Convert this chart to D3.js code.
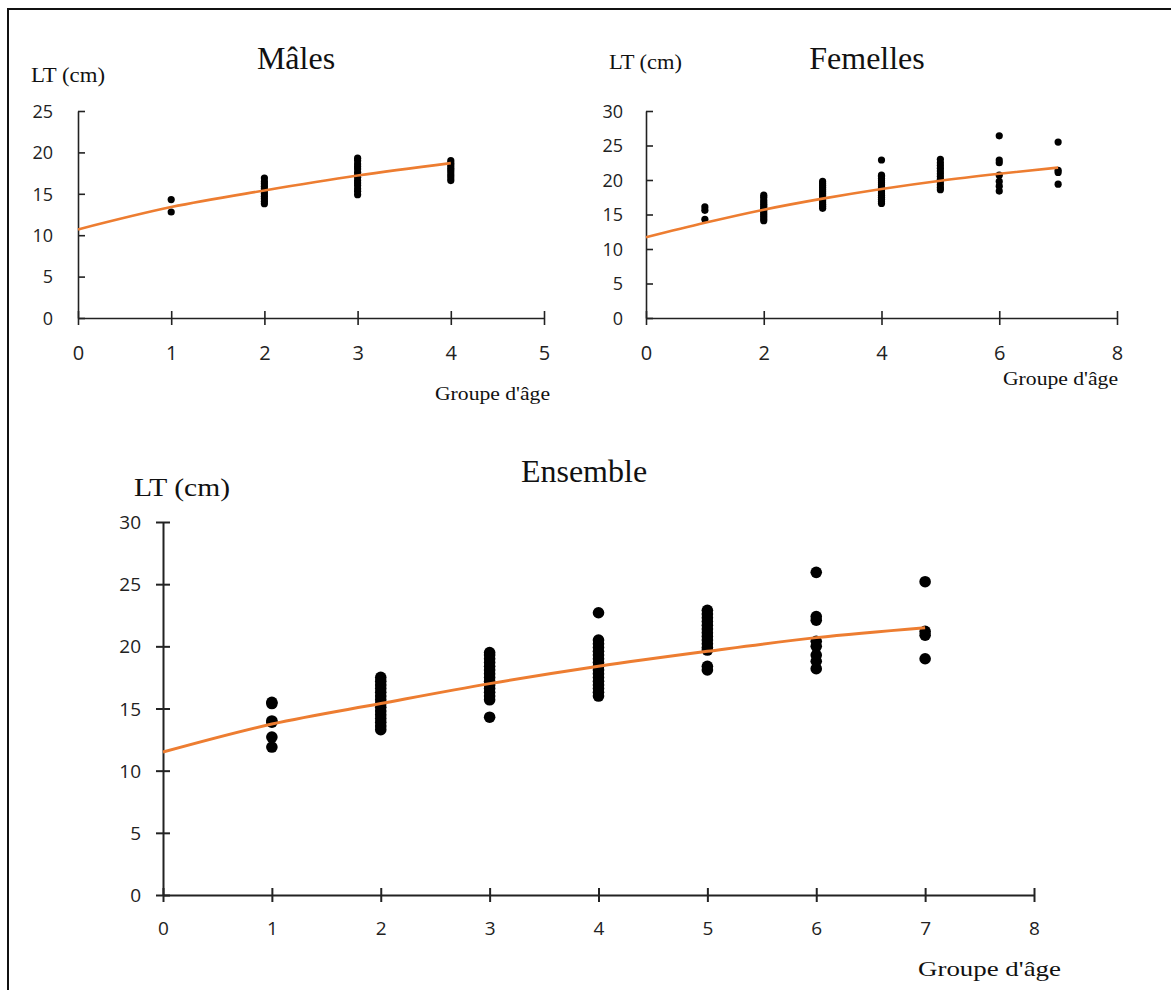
<!DOCTYPE html>
<html>
<head>
<meta charset="utf-8">
<script src="https://cdn.jsdelivr.net/npm/d3@7"></script>
<style>
  body { margin: 0; background: #fff; }
  svg { display: block; }
</style>
</head>
<body>
<svg id="chart"></svg>
<script>
// ---- data ----
const titles = ["Mâles", "Femelles", "Ensemble"];
const yLabel = "LT (cm)";
const xLabel = "Groupe d'âge";

const malesAges = [1, 2, 3, 4];
const malesLT = [
  [14.3, 12.8],
  [13.8, 14.1, 14.4, 14.7, 15.0, 15.3, 15.6, 15.9, 16.2, 16.5, 16.9],
  [14.9, 15.3, 15.6, 16.0, 16.3, 16.6, 17.0, 17.3, 17.6, 18.0, 18.3, 18.6, 19.0, 19.3],
  [16.6, 16.9, 17.2, 17.5, 17.8, 18.1, 18.4, 18.7, 19.0]
];
const malesCurveAge = [0, 1, 2, 3, 4];
const malesCurveLT = [10.7, 13.4, 15.4, 17.2, 18.7];

const femalesAges = [1, 2, 3, 4, 5, 6, 7];
const femalesLT = [
  [16.1, 15.6, 14.3],
  [14.1, 14.4, 14.7, 15.0, 15.3, 15.6, 15.9, 16.2, 16.5, 16.8, 17.1, 17.5, 17.8],
  [15.9, 16.2, 16.5, 16.8, 17.1, 17.4, 17.7, 18.0, 18.3, 18.6, 18.9, 19.2, 19.5, 19.8],
  [22.9, 16.6, 16.9, 17.2, 17.5, 17.8, 18.1, 18.4, 18.7, 19.0, 19.3, 19.6, 19.9, 20.2, 20.5, 20.7],
  [18.6, 18.9, 19.3, 19.7, 20.1, 20.5, 20.9, 21.3, 21.7, 22.1, 22.5, 23.0],
  [26.4, 22.9, 22.5, 20.7, 19.8, 19.1, 18.4],
  [25.5, 21.4, 21.1, 19.4]
];
const femalesCurveAge = [0, 1, 2, 3, 4, 5, 6, 7];
const femalesCurveLT = [11.7, 13.8, 15.7, 17.3, 18.7, 19.9, 20.9, 21.8];

const allAges = [1, 2, 3, 4, 5, 6, 7];
const allLT = [
  [15.5, 15.4, 14.0, 13.9, 12.7, 11.9],
  [13.3, 13.6, 13.9, 14.2, 14.5, 14.8, 15.1, 15.4, 15.7, 16.0, 16.3, 16.6, 16.9, 17.2, 17.5],
  [14.3, 15.7, 16.0, 16.3, 16.6, 16.9, 17.2, 17.5, 17.8, 18.1, 18.4, 18.7, 19.0, 19.3, 19.5],
  [22.7, 16.0, 16.3, 16.6, 16.9, 17.2, 17.5, 17.8, 18.1, 18.4, 18.7, 19.0, 19.3, 19.6, 19.9, 20.2, 20.5],
  [22.9, 22.6, 22.3, 22.0, 21.7, 21.4, 21.1, 20.8, 20.5, 20.2, 19.9, 19.7, 18.4, 18.1],
  [25.95, 22.4, 22.1, 20.4, 20.0, 19.3, 18.8, 18.2],
  [25.2, 21.2, 20.9, 19.0]
];
const allCurveAge = [0, 1, 2, 3, 4, 5, 6, 7];
const allCurveLT = [11.5, 13.75, 15.4, 17.0, 18.4, 19.6, 20.7, 21.5];

const malesXTicks = [0, 1, 2, 3, 4, 5];
const malesYTicks = [0, 5, 10, 15, 20, 25];
const femalesXTicks = [0, 2, 4, 6, 8];
const femalesYTicks = [0, 5, 10, 15, 20, 25, 30];
const allXTicks = [0, 1, 2, 3, 4, 5, 6, 7, 8];
const allYTicks = [0, 5, 10, 15, 20, 25, 30];

// ---- layout ----
const W = 1171, H = 990;
const svg = d3.select("#chart").attr("width", W).attr("height", H);

svg.append("rect")
  .attr("x", 8).attr("y", 9).attr("width", 1200).attr("height", 1000)
  .attr("fill", "none").attr("stroke", "#111").attr("stroke-width", 2);

const panels = [
  {
    title: titles[0], ages: malesAges, lt: malesLT, cAge: malesCurveAge, cLT: malesCurveLT,
    xDom: [0, 5], yDom: [0, 25], xT: malesXTicks, yT: malesYTicks,
    x0: 78, x1: 544, y0: 318, y1: 111, r: 3.6, yTickMode: "in",
    titleX: 296, titleY: 58, ltX: 31, ltY: 75, ltW: 74, ltSize: 21,
    gX: 435, gY: 393, gW: 115, gSize: 19,
    yLabPad: 25, xLabOff: 35, yFont: 18, xFont: 20, axisW: 1.6, curveW: 2.6
  },
  {
    title: titles[1], ages: femalesAges, lt: femalesLT, cAge: femalesCurveAge, cLT: femalesCurveLT,
    xDom: [0, 8], yDom: [0, 30], xT: femalesXTicks, yT: femalesYTicks,
    x0: 646, x1: 1117, y0: 318, y1: 111, r: 3.6, yTickMode: "in",
    titleX: 867, titleY: 58, ltX: 609, ltY: 62, ltW: 73, ltSize: 21,
    gX: 1003, gY: 378, gW: 115, gSize: 19,
    yLabPad: 23, xLabOff: 35, yFont: 18, xFont: 20, axisW: 1.6, curveW: 2.6
  },
  {
    title: titles[2], ages: allAges, lt: allLT, cAge: allCurveAge, cLT: allCurveLT,
    xDom: [0, 8], yDom: [0, 30], xT: allXTicks, yT: allYTicks,
    x0: 163, x1: 1034, y0: 895, y1: 522, r: 5.8, yTickMode: "cross",
    titleX: 584, titleY: 471, ltX: 134, ltY: 487, ltW: 96, ltSize: 25,
    gX: 918, gY: 968, gW: 143, gSize: 22,
    yLabPad: 22, xLabOff: 33, yFont: 19, xFont: 19, axisW: 2, curveW: 3
  }
];

const fmt = d3.format("d");

panels.forEach(p => {
  const x = d3.scaleLinear().domain(p.xDom).range([p.x0, p.x1]);
  const y = d3.scaleLinear().domain(p.yDom).range([p.y0, p.y1]);
  const g = svg.append("g");

  // y axis
  const ya = g.append("g").attr("transform", `translate(${p.x0},0)`)
    .call(d3.axisLeft(y).tickValues(p.yT).tickFormat(fmt).tickSize(0).tickPadding(p.yLabPad));
  ya.select(".domain").attr("stroke", "#222").attr("stroke-width", p.axisW);
  ya.selectAll(".tick line").remove();
  ya.selectAll(".tick").append("line")
    .attr("x1", p.yTickMode === "cross" ? -7 : 0).attr("x2", 7)
    .attr("stroke", "#222").attr("stroke-width", p.axisW);
  ya.selectAll(".tick text")
    .attr("font-family", "'Open Sans', sans-serif").attr("font-size", p.yFont)
    .attr("fill", "#222").attr("dy", "0.35em");

  // x axis
  const xa = g.append("g").attr("transform", `translate(0,${p.y0})`)
    .call(d3.axisBottom(x).tickValues(p.xT).tickFormat(fmt).tickSize(0));
  xa.select(".domain").attr("stroke", "#222").attr("stroke-width", p.axisW);
  xa.selectAll(".tick line").remove();
  xa.selectAll(".tick").append("line")
    .attr("y1", -7).attr("y2", 7)
    .attr("stroke", "#222").attr("stroke-width", p.axisW);
  xa.selectAll(".tick text")
    .attr("font-family", "'Open Sans', sans-serif").attr("font-size", p.xFont)
    .attr("fill", "#222").attr("y", p.xLabOff).attr("dy", "0.35em");

  // points
  const pts = [];
  p.ages.forEach((a, i) => p.lt[i].forEach(v => pts.push([a, v])));
  g.append("g").selectAll("circle")
    .data(pts)
    .enter()
    .append("circle")
    .attr("cx", d => x(d[0]))
    .attr("cy", d => y(d[1]))
    .attr("r", p.r)
    .attr("fill", "#000");

  // growth curve
  const line = d3.line()
    .x(d => x(d[0]))
    .y(d => y(d[1]))
    .curve(d3.curveMonotoneX);
  g.append("path")
    .datum(p.cAge.map((a, i) => [a, p.cLT[i]]))
    .attr("d", line)
    .attr("fill", "none")
    .attr("stroke", "#ED7D31")
    .attr("stroke-width", p.curveW);

  // texts
  g.append("text")
    .attr("x", p.titleX).attr("y", p.titleY).attr("dy", "0.35em")
    .attr("text-anchor", "middle")
    .attr("font-family", "'Liberation Serif', serif").attr("font-size", 32)
    .attr("fill", "#111")
    .text(p.title);

  g.append("text")
    .attr("x", p.ltX).attr("y", p.ltY).attr("dy", "0.35em")
    .attr("textLength", p.ltW).attr("lengthAdjust", "spacingAndGlyphs")
    .attr("font-family", "'Liberation Serif', serif").attr("font-size", p.ltSize)
    .attr("fill", "#111")
    .text(yLabel);

  g.append("text")
    .attr("x", p.gX).attr("y", p.gY).attr("dy", "0.35em")
    .attr("textLength", p.gW).attr("lengthAdjust", "spacingAndGlyphs")
    .attr("font-family", "'Liberation Serif', serif").attr("font-size", p.gSize)
    .attr("fill", "#111")
    .text(xLabel);
});
</script>
</body>
</html>
